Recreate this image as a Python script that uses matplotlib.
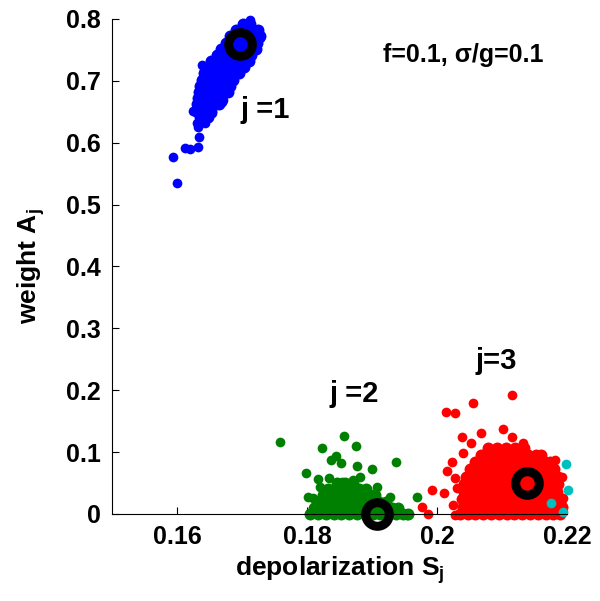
import matplotlib.pyplot as plt
import numpy as np

plt.rcParams['font.family'] = 'Liberation Sans'
plt.rcParams['font.weight'] = 'bold'
plt.rcParams['mathtext.fontset'] = 'custom'
plt.rcParams['mathtext.rm'] = 'Liberation Sans:bold'
plt.rcParams['mathtext.it'] = 'Liberation Sans:bold'
plt.rcParams['mathtext.default'] = 'rm'

## j=1 cluster (blue): dense core rows {weight: [depolarization values]} + scattered points
blue_rows = {
    0.792: [0.1702, 0.1713],
    0.782: [0.1690, 0.1702, 0.1714, 0.1724],
    0.772: [0.1681, 0.1693, 0.1705, 0.1717, 0.1727],
    0.762: [0.1675, 0.1687, 0.1699, 0.1711, 0.1723],
    0.752: [0.1668, 0.1680, 0.1692, 0.1704, 0.1716, 0.1722],
    0.742: [0.1661, 0.1673, 0.1685, 0.1697, 0.1709, 0.1714],
    0.732: [0.1653, 0.1665, 0.1677, 0.1689, 0.1701, 0.1710],
    0.722: [0.1646, 0.1658, 0.1670, 0.1682, 0.1694, 0.1703],
    0.712: [0.1641, 0.1653, 0.1665, 0.1677, 0.1689, 0.1696],
    0.702: [0.1638, 0.1650, 0.1662, 0.1674, 0.1686],
    0.692: [0.1635, 0.1647, 0.1659, 0.1671, 0.1682],
    0.682: [0.1634, 0.1646, 0.1658, 0.1670, 0.1678],
    0.672: [0.1633, 0.1645, 0.1657, 0.1668],
    0.662: [0.1631, 0.1643, 0.1655, 0.1665],
    0.652: [0.1629, 0.1641, 0.1652],
    0.642: [0.1636, 0.1647],
}
blue_sx = [0.1600, 0.1594, 0.1612, 0.1620, 0.1632, 0.1634, 0.1632, 0.1625, 0.1643,
           0.1654, 0.1671, 0.1638, 0.1723, 0.1712, 0.1727, 0.1669, 0.1631]
blue_sy = [0.535, 0.577, 0.592, 0.590, 0.593, 0.609, 0.625, 0.651, 0.632,
           0.648, 0.669, 0.726, 0.777, 0.798, 0.770, 0.666, 0.632]

## j=2 cluster (green)
green_rows = {
    0.000: [0.1805, 0.1817, 0.1829, 0.1841, 0.1853, 0.1865, 0.1877, 0.1889, 0.1901,
            0.1913, 0.1925, 0.1937, 0.1948, 0.1956],
    0.010: [0.1810, 0.1822, 0.1834, 0.1846, 0.1858, 0.1870, 0.1882, 0.1894, 0.1906,
            0.1918, 0.1930, 0.1940],
    0.020: [0.1815, 0.1827, 0.1839, 0.1851, 0.1863, 0.1875, 0.1887, 0.1899, 0.1911, 0.1921],
    0.030: [0.1825, 0.1837, 0.1849, 0.1861, 0.1873, 0.1885, 0.1897, 0.1905],
    0.040: [0.1832, 0.1844, 0.1856, 0.1868, 0.1880, 0.1890],
    0.050: [0.1846, 0.1858, 0.1870],
}
green_sx = [0.1758, 0.1857, 0.1823, 0.1875, 0.1845, 0.1837, 0.1852, 0.1937, 0.1877,
            0.1900, 0.1798, 0.1817, 0.1820, 0.1834, 0.1882, 0.1871, 0.1854, 0.1908,
            0.1802, 0.1809, 0.1928, 0.1969, 0.1946, 0.1954]
green_sy = [0.116, 0.126, 0.107, 0.110, 0.094, 0.087, 0.083, 0.084, 0.078,
            0.073, 0.066, 0.057, 0.044, 0.058, 0.060, 0.055, 0.052, 0.044,
            0.028, 0.026, 0.027, 0.027, 0.000, -0.002]

## j=3 cluster (red)
red_rows = {
    0.000: [0.2035, 0.2047, 0.2059, 0.2071, 0.2083, 0.2095, 0.2107, 0.2119, 0.2131,
            0.2143, 0.2155, 0.2167, 0.2179, 0.2189],
    0.012: [0.2040, 0.2052, 0.2064, 0.2076, 0.2088, 0.2100, 0.2112, 0.2124, 0.2136,
            0.2148, 0.2160, 0.2172, 0.2184, 0.2192],
    0.024: [0.2038, 0.2050, 0.2062, 0.2074, 0.2086, 0.2098, 0.2110, 0.2122, 0.2134,
            0.2146, 0.2158, 0.2170, 0.2182, 0.2191],
    0.036: [0.2041, 0.2053, 0.2065, 0.2077, 0.2089, 0.2101, 0.2113, 0.2125, 0.2137,
            0.2149, 0.2161, 0.2173, 0.2185],
    0.048: [0.2042, 0.2054, 0.2066, 0.2078, 0.2090, 0.2102, 0.2114, 0.2126, 0.2138,
            0.2150, 0.2162, 0.2174, 0.2186],
    0.060: [0.2045, 0.2057, 0.2069, 0.2081, 0.2093, 0.2105, 0.2117, 0.2129, 0.2141,
            0.2153, 0.2165, 0.2177, 0.2186],
    0.072: [0.2050, 0.2062, 0.2074, 0.2086, 0.2098, 0.2110, 0.2122, 0.2134, 0.2146,
            0.2158, 0.2170, 0.2180],
    0.084: [0.2058, 0.2070, 0.2082, 0.2094, 0.2106, 0.2118, 0.2130, 0.2142, 0.2154,
            0.2166, 0.2174],
    0.096: [0.2068, 0.2080, 0.2092, 0.2104, 0.2116, 0.2128, 0.2140, 0.2152, 0.2160],
    0.106: [0.2078, 0.2092, 0.2106, 0.2120, 0.2134],
}
red_sx = [0.2115, 0.2056, 0.2014, 0.2028, 0.2038, 0.2068, 0.2102, 0.2115, 0.2052,
          0.2132, 0.2040, 0.2023, 0.2182, 0.2015, 0.2028, 0.2031, 0.1992, 0.2011,
          0.1977, 0.1986, 0.2025, 0.2028, 0.2194, 0.2192]
red_sy = [0.192, 0.179, 0.165, 0.163, 0.124, 0.131, 0.137, 0.124, 0.115,
          0.115, 0.099, 0.084, 0.087, 0.070, 0.058, 0.042, 0.039, 0.034,
          0.011, 0.000, 0.015, -0.002, 0.026, 0.060]

## stray points (cyan)
cyan_x = [0.2198, 0.2202, 0.2175, 0.2194]
cyan_y = [0.081, 0.039, 0.018, 0.003]

## cluster centres (black rings)
centre_x = [0.1697, 0.1908, 0.2138]
centre_y = [0.760, 0.000, 0.050]

labels = ['j =1', 'j =2', 'j=3']
label_x = [0.1735, 0.1872, 0.2091]
label_y = [0.653, 0.194, 0.247]


def unpack(rows):
    xs, ys = [], []
    for y, row in rows.items():
        xs += row
        ys += [y] * len(row)
    return xs, ys


fig = plt.figure(figsize=(6, 6.01), dpi=100)
ax = fig.add_axes([0.1867, 0.1448, 0.7583, 0.8236])

for rows, sx, sy, c in [(blue_rows, blue_sx, blue_sy, (0, 0, 1)),
                        (green_rows, green_sx, green_sy, (0, 0.5, 0)),
                        (red_rows, red_sx, red_sy, (1, 0, 0))]:
    x, y = unpack(rows)
    ax.plot(x, y, 'o', color=c, markersize=8.6, markeredgewidth=0, clip_on=False)
    ax.plot(sx, sy, 'o', color=c, markersize=7, markeredgewidth=0, clip_on=False)
ax.plot(cyan_x, cyan_y, 'o', color=(0, 0.75, 0.75), markersize=7, markeredgewidth=0, clip_on=False)
ax.plot(centre_x, centre_y, 'o', markerfacecolor='none', markeredgecolor='k',
        markersize=17, markeredgewidth=6.5, clip_on=False, zorder=5)

for t, x, y in zip(labels, label_x, label_y):
    ax.text(x, y, t, fontsize=21, fontweight='bold', ha='center', va='center')
ax.text(0.2040, 0.742, 'f=0.1, σ/g=0.1', fontsize=18, fontweight='bold', ha='center', va='center')

ax.set_xlim(0.15, 0.22)
ax.set_ylim(0, 0.8)
ax.set_xticks([0.16, 0.18, 0.2, 0.22])
ax.set_xticklabels(['0.16', '0.18', '0.2', '0.22'])
ax.set_yticks(np.arange(0, 0.81, 0.1))
ax.set_yticklabels(['0', '0.1', '0.2', '0.3', '0.4', '0.5', '0.6', '0.7', '0.8'])
ax.tick_params(direction='in', length=5, labelsize=18, pad=8)
for s in ['top', 'right']:
    ax.spines[s].set_visible(False)
ax.set_xlabel('depolarization S$_{j}$', fontsize=19, fontweight='bold', labelpad=4)
ax.set_ylabel('weight A$_{j}$', fontsize=19, fontweight='bold', labelpad=14)

plt.savefig('out.png', dpi=100)
